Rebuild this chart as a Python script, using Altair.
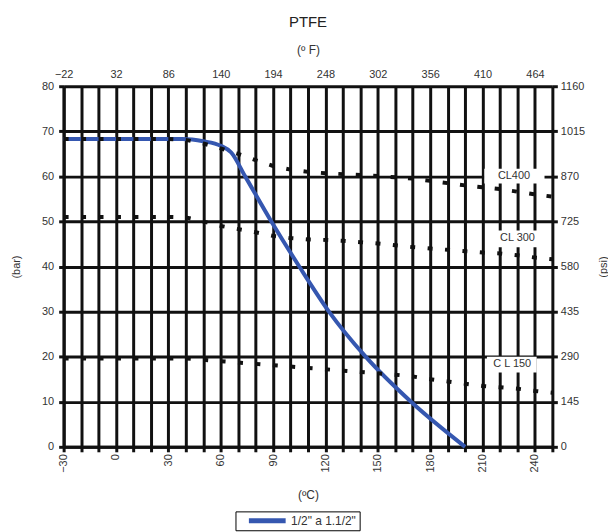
import altair as alt
import pandas as pd

# ---------------- data ----------------
TEMP_C = [-30, -20, -10, 0, 10, 20, 30, 40, 50, 60, 70, 80, 90, 100, 110, 120,
          130, 140, 150, 160, 170, 180, 190, 200, 210, 220, 230, 240, 250]
CL400 = [68.3, 68.3, 68.3, 68.3, 68.3, 68.3, 68.3, 68.1, 67.3, 66.2, 65.0, 63.6,
         62.3, 61.5, 61.0, 60.7, 60.5, 60.3, 60.1, 59.8, 59.5, 59.0, 58.5, 58.0,
         57.6, 57.2, 56.6, 56.0, 55.5]
CL300 = [51.0, 51.0, 51.0, 51.0, 51.0, 51.0, 51.0, 50.9, 50.0, 49.0, 48.3, 47.6,
         46.8, 46.3, 46.0, 45.9, 45.7, 45.4, 45.1, 44.7, 44.3, 44.0, 43.7, 43.4,
         43.1, 42.9, 42.5, 42.0, 41.6]
CL150 = [19.6, 19.6, 19.6, 19.6, 19.6, 19.6, 19.6, 19.6, 19.3, 19.0, 18.7, 18.4,
         18.1, 17.8, 17.5, 17.2, 16.9, 16.6, 16.3, 16.0, 15.6, 15.0, 14.5, 14.0,
         13.5, 13.2, 12.9, 12.4, 12.0]

BLUE_T = [-30, 38, 50, 60, 66, 74, 89, 105, 122, 143, 169, 200]
BLUE_P = [68.3, 68.3, 67.8, 66.8, 65.3, 60, 50, 40, 30, 20, 10, 0]
BLUE_NAME = '1/2" a 1.1/2"'

BAR_TICKS = [0, 10, 20, 30, 40, 50, 60, 70, 80]
PSI_TICKS = [0, 145, 290, 435, 580, 725, 870, 1015, 1160]
F_TICKS = [-22, 32, 86, 140, 194, 248, 302, 356, 410, 464]

LABEL_TEXT = ["CL400", "CL 300", "C L 150"]
LABEL_T = [228, 230, 227]
LABEL_P = [60.1, 46.3, 18.3]
BOX_T1 = [211, 216, 212.5]
BOX_T2 = [245.5, 245, 241]
BOX_P1 = [58.4, 44.3, 16.5]
BOX_P2 = [61.7, 48.0, 20.0]

# ---------------- tables ----------------
dotted = pd.concat([
    pd.DataFrame({"t": TEMP_C, "p": CL400, "s": "CL400"}),
    pd.DataFrame({"t": TEMP_C, "p": CL300, "s": "CL300"}),
    pd.DataFrame({"t": TEMP_C, "p": CL150, "s": "CL150"}),
])
blue = pd.DataFrame({"t": BLUE_T, "p": BLUE_P, "series": BLUE_NAME})
labels = pd.DataFrame({"txt": LABEL_TEXT, "t": LABEL_T, "p": LABEL_P,
                       "t1": BOX_T1, "t2": BOX_T2, "p1": BOX_P1, "p2": BOX_P2})
aux = pd.DataFrame({"F": F_TICKS})

FONT = "Liberation Sans"
INK = "#111111"
TXT = "#333333"

x_scale = alt.Scale(domain=[-30, 250], nice=False, zero=False)
y_scale = alt.Scale(domain=[0, 80], nice=False, zero=False)

x_axis = alt.Axis(
    orient="bottom", values=TEMP_C,
    labelExpr="datum.value % 30 == 0 ? datum.label : ''",
    labelAngle=-90, labelFlush=False, labelOverlap=False,
    grid=True, gridColor=INK, gridWidth=3,
    domainColor=INK, domainWidth=3,
    tickColor=INK, tickWidth=3, tickSize=5,
    labelFont=FONT, labelFontSize=11, labelColor=TXT, labelPadding=2,
    title="(ºC)", titleFont=FONT, titleFontSize=12, titleFontWeight="normal",
    titleColor=TXT, titlePadding=17,
)
y_axis = alt.Axis(
    orient="left", values=BAR_TICKS,
    grid=True, gridColor=INK, gridWidth=3,
    domainColor=INK, domainWidth=3,
    tickColor=INK, tickWidth=3, tickSize=5,
    labelFont=FONT, labelFontSize=11, labelColor=TXT, labelPadding=5,
    title="(bar)", titleFont=FONT, titleFontSize=11, titleFontWeight="normal",
    titleColor=TXT, titlePadding=20,
)

X = alt.X("t:Q", scale=x_scale, axis=x_axis)
Y = alt.Y("p:Q", scale=y_scale, axis=y_axis)

boxes = alt.Chart(labels).mark_rect(fill="white", stroke=None).encode(
    x=alt.X("t1:Q", scale=x_scale, axis=x_axis), x2="t2:Q",
    y=alt.Y("p1:Q", scale=y_scale, axis=y_axis), y2="p2:Q",
)

blue_line = alt.Chart(blue).mark_line(strokeWidth=4, interpolate="monotone").encode(
    x=X, y=Y,
    color=alt.Color(
        "series:N",
        scale=alt.Scale(domain=[BLUE_NAME], range=["#3557b0"]),
        legend=alt.Legend(
            title=None, orient="none", legendX=173, legendY=428,
            direction="horizontal", symbolType="stroke", symbolStrokeWidth=5,
            symbolSize=1369, symbolOffset=8, clipHeight=13,
            strokeColor="black", padding=3,
            labelFont=FONT, labelFontSize=12, labelColor=TXT, labelOffset=3,
        ),
    ),
)

dots = alt.Chart(dotted).mark_line(
    color=INK, strokeWidth=4, strokeDash=[5, 12.57], strokeCap="butt"
).encode(x=X, y=Y, detail="s:N")

texts = alt.Chart(labels).mark_text(
    font=FONT, fontSize=11, color=TXT, align="center", baseline="middle"
).encode(x=X, y=Y, text="txt:N")

main = alt.layer(boxes, blue_line, dots, texts)

aux_layer = alt.Chart(aux).mark_point(opacity=0).encode(
    x=alt.X("F:Q", scale=alt.Scale(domain=[-22, 482], nice=False, zero=False),
            axis=alt.Axis(orient="top", values=F_TICKS, ticks=False, domain=False,
                          grid=False, labelFlush=False, labelOverlap=False,
                          labelFont=FONT, labelFontSize=11, labelColor=TXT,
                          labelPadding=7, title="(º F)", titleFont=FONT,
                          titleFontSize=12, titleFontWeight="normal",
                          titleColor=TXT, titlePadding=12)),
    y=alt.YDatum(0, type="quantitative",
                 scale=alt.Scale(domain=[0, 1160], nice=False, zero=False),
                 axis=alt.Axis(orient="right", values=PSI_TICKS, format="d",
                               grid=False, domain=False, tickColor=INK,
                               tickWidth=3, tickSize=5,
                               labelFont=FONT, labelFontSize=11, labelColor=TXT,
                               labelPadding=3, title="(psi)", titleAngle=-90,
                               titleFont=FONT, titleFontSize=11,
                               titleFontWeight="normal", titleColor=TXT,
                               titlePadding=24)),
)

chart = alt.layer(main, aux_layer).resolve_scale(
    x="independent", y="independent"
).properties(
    width=492, height=363,
    padding={"left": 56, "top": 77, "right": 56, "bottom": 84},
    autosize=alt.AutoSizeParams(type="none"),
    title=alt.TitleParams("PTFE", font=FONT, fontSize=15, fontWeight="normal",
                          color="#222222", offset=14, anchor="middle"),
).configure_view(stroke=None).configure(background="white")

chart.save("out.html", embed_options={"renderer": "svg", "actions": False})
